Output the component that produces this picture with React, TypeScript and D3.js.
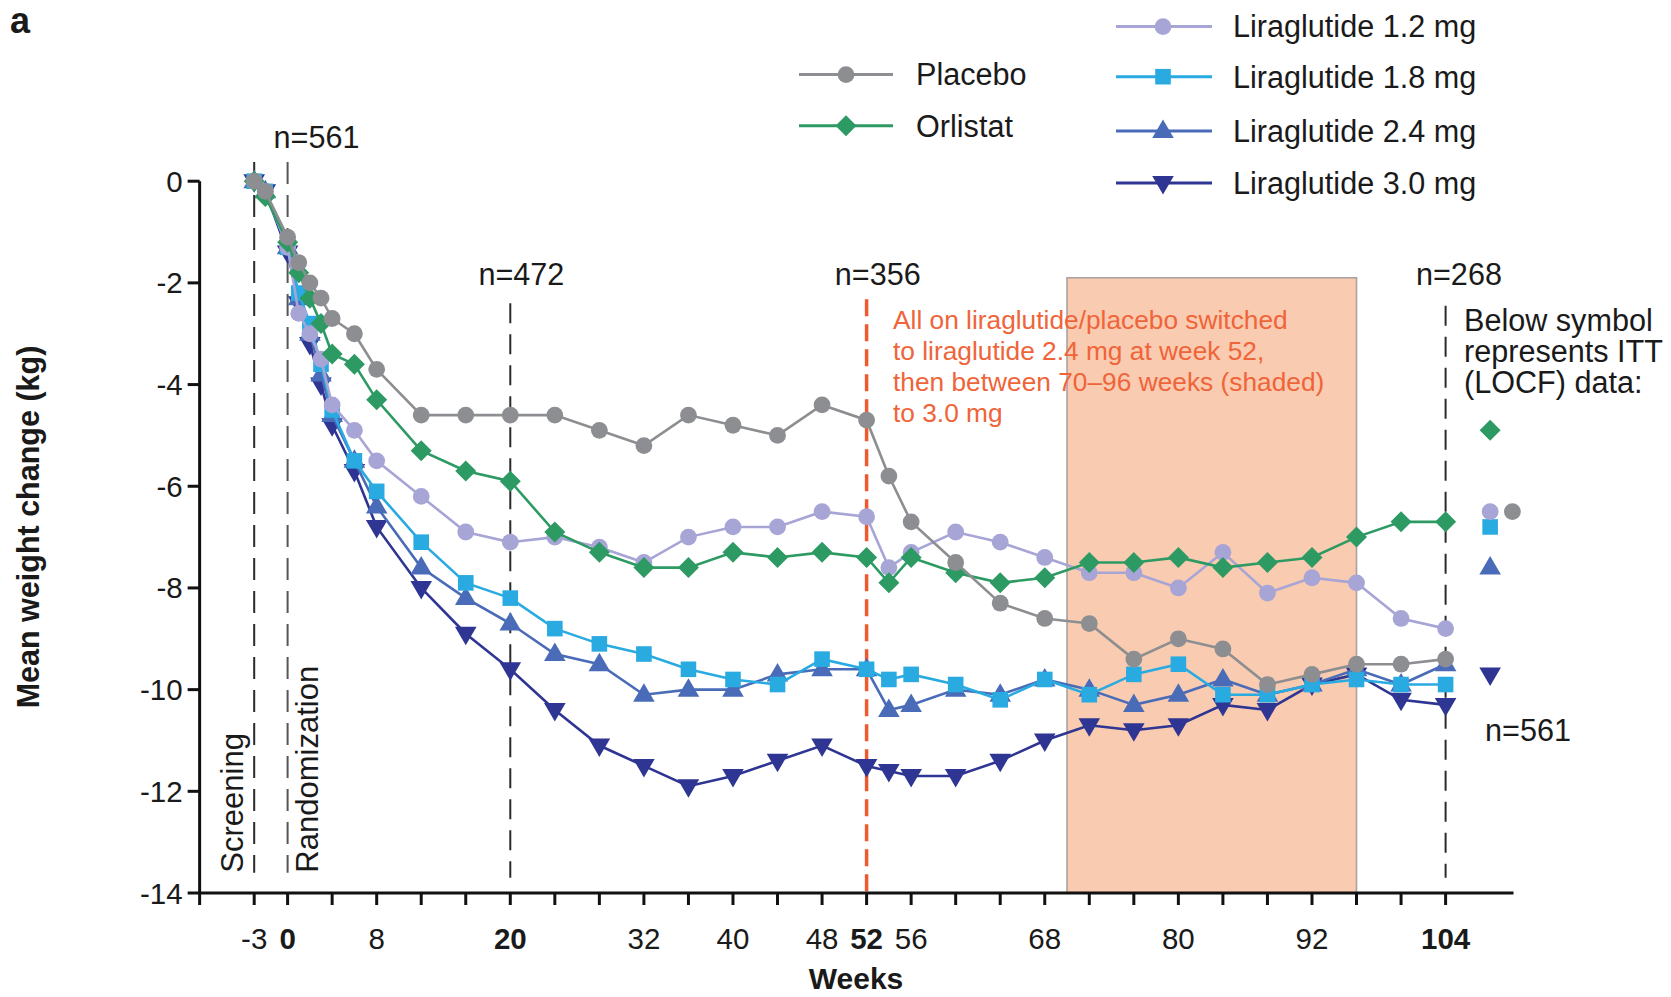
import React from 'react';
import * as d3 from 'd3';

// ---------- DATA ----------
const weeks = [-3, -2, 0, 1, 2, 3, 4, 6, 8, 12, 16, 20, 24, 28, 32, 36, 40, 44, 48, 52, 54, 56, 60, 64, 68, 72, 76, 80, 84, 88, 92, 96, 100, 104];

const placebo = [0, -0.2, -1.1, -1.6, -2.0, -2.3, -2.7, -3.0, -3.7, -4.6, -4.6, -4.6, -4.6, -4.9, -5.2, -4.6, -4.8, -5.0, -4.4, -4.7, -5.8, -6.7, -7.5, -8.3, -8.6, -8.7, -9.4, -9.0, -9.2, -9.9, -9.7, -9.5, -9.5, -9.4];
const orlistat = [0, -0.3, -1.2, -1.8, -2.3, -2.8, -3.4, -3.6, -4.3, -5.3, -5.7, -5.9, -6.9, -7.3, -7.6, -7.6, -7.3, -7.4, -7.3, -7.4, -7.9, -7.4, -7.7, -7.9, -7.8, -7.5, -7.5, -7.4, -7.6, -7.5, -7.4, -7.0, -6.7, -6.7];
const lira12 = [0, -0.2, -1.3, -2.6, -3.0, -3.5, -4.4, -4.9, -5.5, -6.2, -6.9, -7.1, -7.0, -7.2, -7.5, -7.0, -6.8, -6.8, -6.5, -6.6, -7.6, -7.3, -6.9, -7.1, -7.4, -7.7, -7.7, -8.0, -7.3, -8.1, -7.8, -7.9, -8.6, -8.8];
const lira18 = [0, -0.2, -1.3, -2.2, -2.8, -3.6, -4.5, -5.5, -6.1, -7.1, -7.9, -8.2, -8.8, -9.1, -9.3, -9.6, -9.8, -9.9, -9.4, -9.6, -9.8, -9.7, -9.9, -10.2, -9.8, -10.1, -9.7, -9.5, -10.1, -10.1, -9.9, -9.8, -9.9, -9.9];
const lira24 = [0, -0.2, -1.3, -2.3, -3.0, -3.8, -4.6, -5.5, -6.4, -7.6, -8.2, -8.7, -9.3, -9.5, -10.1, -10.0, -10.0, -9.7, -9.6, -9.6, -10.4, -10.3, -10.0, -10.1, -9.8, -10.0, -10.3, -10.1, -9.8, -10.1, -9.9, -9.6, -9.9, -9.5];
const lira30 = [0, -0.2, -1.4, -2.4, -3.2, -4.0, -4.8, -5.7, -6.8, -8.0, -8.9, -9.6, -10.4, -11.1, -11.5, -11.9, -11.7, -11.4, -11.1, -11.5, -11.6, -11.7, -11.7, -11.4, -11.0, -10.7, -10.8, -10.7, -10.3, -10.4, -9.9, -9.7, -10.2, -10.3];

const seriesNames = ['Placebo', 'Orlistat', 'Liraglutide 1.2 mg', 'Liraglutide 1.8 mg', 'Liraglutide 2.4 mg', 'Liraglutide 3.0 mg'];
const seriesValues = [placebo, orlistat, lira12, lira18, lira24, lira30];

// ITT (LOCF) values at week 104, shown to the right of the plot
const ittValues = [-6.5, -4.9, -6.5, -6.8, -7.6, -9.7];
const ittWeeks = [110, 108, 108, 108, 108, 108];

const yTicks = [0, -2, -4, -6, -8, -10, -12, -14];
const xTicks = [-3, 0, 4, 8, 12, 16, 20, 24, 28, 32, 36, 40, 44, 48, 52, 56, 60, 64, 68, 72, 76, 80, 84, 88, 92, 96, 100, 104];
const xTickLabels = [-3, 0, 8, 20, 32, 40, 48, 52, 56, 68, 80, 92, 104];
const xBoldLabels = [0, 20, 52, 104];

const nLabels = [
  { week: 2.6, value: 0.86, text: 'n=561' },
  { week: 21, value: -1.84, text: 'n=472' },
  { week: 53, value: -1.84, text: 'n=356' },
  { week: 105.2, value: -1.84, text: 'n=268' },
];
const shadeWeeks = [70, 96];
const shadeTop = -1.9;

const noteLines = ['All on liraglutide/placebo switched', 'to liraglutide 2.4 mg at week 52,', 'then between 70\u201396 weeks (shaded)', 'to 3.0 mg'];
const ittNoteLines = ['Below symbol', 'represents ITT', '(LOCF) data:'];

// ---------- STYLE ----------
const FONT = '"Liberation Sans", Arial, Helvetica, sans-serif';
const colors = ['#8d8e91', '#2e9a63', '#a7a4d6', '#29abe2', '#4a6cb8', '#2e3592'];
const shapes = ['circle', 'diamond', 'circle', 'square', 'up', 'down'];

function markerPath(shape: string): string {
  switch (shape) {
    case 'circle': return 'M8.4,0A8.4,8.4 0 1,1 -8.4,0A8.4,8.4 0 1,1 8.4,0Z';
    case 'diamond': return 'M0,-10.5L10.5,0L0,10.5L-10.5,0Z';
    case 'square': return 'M-7.8,-7.8h15.6v15.6h-15.6Z';
    case 'up': return 'M0,-11.5L10.8,7L-10.8,7Z';
    case 'down': return 'M0,11.5L10.8,-7L-10.8,-7Z';
  }
  return '';
}

export default function App() {
  const x = d3.scaleLinear().domain([0, 104]).range([287.6, 1445.6]);
  const y = d3.scaleLinear().domain([0, -14]).range([181.2, 893]);
  const xAxisStart = x(-7.9);
  const xAxisEnd = x(110.1);
  const line = d3.line<[number, number]>().x(d => x(d[0])).y(d => y(d[1]));

  const order = [5, 4, 3, 2, 1, 0];
  const fs = 29.5;
  const fsL = 30.6;

  return (
    <svg width={1671} height={997} style={{ position: 'absolute', left: 0, top: 0, background: '#fff' }} fontFamily={FONT}>
      <rect x={0} y={0} width={1671} height={997} fill="#fff" />
      <text x={10} y={33} fontSize={36} fontWeight="bold" fill="#1a1a1a">a</text>

      {/* shaded 70-96 weeks */}
      <rect x={x(shadeWeeks[0])} y={y(shadeTop)} width={x(shadeWeeks[1]) - x(shadeWeeks[0])} height={y(-14) - y(shadeTop)}
        fill="#f9cbb0" stroke="#aaa29e" strokeWidth={1.6} />

      {/* dashed reference lines */}
      <line x1={x(-3)} x2={x(-3)} y1={y(0.38)} y2={y(-13.6)} stroke="#2a2a2a" strokeWidth={2} strokeDasharray="22 11" />
      <line x1={x(0)} x2={x(0)} y1={y(0.38)} y2={y(-13.6)} stroke="#555" strokeWidth={2} strokeDasharray="22 11" />
      <line x1={x(20)} x2={x(20)} y1={y(-2.4)} y2={y(-13.7)} stroke="#2a2a2a" strokeWidth={2} strokeDasharray="20 11" />
      <line x1={x(104)} x2={x(104)} y1={y(-2.45)} y2={y(-13.7)} stroke="#2a2a2a" strokeWidth={2} strokeDasharray="20 11" />
      <line x1={x(52)} x2={x(52)} y1={y(-2.32)} y2={y(-14)} stroke="#ee5a2f" strokeWidth={3.5} strokeDasharray="17 8" />

      {/* series */}
      {order.map(i => {
        const pts: [number, number][] = weeks.map((w, k) => [w, seriesValues[i][k]]);
        return (
          <g key={i}>
            <path d={line(pts) || ''} fill="none" stroke={colors[i]} strokeWidth={2.6} />
            {pts.map((p, k) => (
              <path key={k} d={markerPath(shapes[i])} transform={`translate(${x(p[0])},${y(p[1])})`} fill={colors[i]} />
            ))}
          </g>
        );
      })}

      {/* ITT markers */}
      {order.map(i => (
        <path key={'itt' + i} d={markerPath(shapes[i])} transform={`translate(${x(ittWeeks[i])},${y(ittValues[i])})`} fill={colors[i]} />
      ))}

      {/* axes */}
      <g stroke="#111" strokeWidth={3} fill="none">
        <line x1={xAxisStart} x2={xAxisStart} y1={y(0)} y2={y(-14) + 12} />
        <line x1={xAxisStart - 1.5} x2={xAxisEnd} y1={y(-14)} y2={y(-14)} />
        {yTicks.map(t => <line key={t} x1={xAxisStart - 12} x2={xAxisStart} y1={y(t)} y2={y(t)} />)}
        {xTicks.map(t => <line key={t} x1={x(t)} x2={x(t)} y1={y(-14)} y2={y(-14) + 12} />)}
      </g>
      {yTicks.map(t => (
        <text key={t} x={xAxisStart - 17} y={y(t) + 10.5} fontSize={fs} textAnchor="end" fill="#1a1a1a">{String(t)}</text>
      ))}
      {xTickLabels.map(t => (
        <text key={t} x={x(t)} y={949} fontSize={fs} textAnchor="middle" fill="#1a1a1a"
          fontWeight={xBoldLabels.includes(t) ? 'bold' : 'normal'}>{String(t)}</text>
      ))}
      <text x={856} y={989} fontSize={30} fontWeight="bold" textAnchor="middle" fill="#1a1a1a">Weeks</text>
      <text transform={`translate(39,527) rotate(-90)`} fontSize={30.5} fontWeight="bold" textAnchor="middle" fill="#1a1a1a">Mean weight change (kg)</text>

      {/* phase labels */}
      <text transform={`translate(243,${y(-13.6)}) rotate(-90)`} fontSize={31} fill="#1a1a1a">Screening</text>
      <text transform={`translate(318,${y(-13.6)}) rotate(-90)`} fontSize={31} fill="#1a1a1a">Randomization</text>

      {/* n labels */}
      {nLabels.map((n, k) => (
        <text key={k} x={x(n.week)} y={y(n.value) + 10.5} fontSize={fsL} textAnchor="middle" fill="#1a1a1a">{n.text}</text>
      ))}
      <text x={1528} y={740.5} fontSize={fsL} textAnchor="middle" fill="#1a1a1a">n=561</text>

      {/* notes */}
      {noteLines.map((s, k) => (
        <text key={k} x={893} y={329 + k * 31} fontSize={26.3} fill="#f0643a">{s}</text>
      ))}
      {ittNoteLines.map((s, k) => (
        <text key={k} x={1464} y={331 + k * 31} fontSize={fsL} fill="#1a1a1a">{s}</text>
      ))}

      {/* legend */}
      {[0, 1].map((i, k) => {
        const ly = [74.6, 125.8][k];
        return (
          <g key={'lg' + i}>
            <line x1={799} x2={893} y1={ly} y2={ly} stroke={colors[i]} strokeWidth={3} />
            <path d={markerPath(shapes[i])} transform={`translate(846,${ly})`} fill={colors[i]} />
            <text x={916} y={ly + 10.8} fontSize={fsL} fill="#1a1a1a">{seriesNames[i]}</text>
          </g>
        );
      })}
      {[2, 3, 4, 5].map((i, k) => {
        const ly = [26.6, 76.7, 131, 183][k];
        return (
          <g key={'lg' + i}>
            <line x1={1116} x2={1212} y1={ly} y2={ly} stroke={colors[i]} strokeWidth={3} />
            <path d={markerPath(shapes[i])} transform={`translate(1163,${ly})`} fill={colors[i]} />
            <text x={1233} y={ly + 10.8} fontSize={fsL} fill="#1a1a1a">{seriesNames[i]}</text>
          </g>
        );
      })}
    </svg>
  );
}
